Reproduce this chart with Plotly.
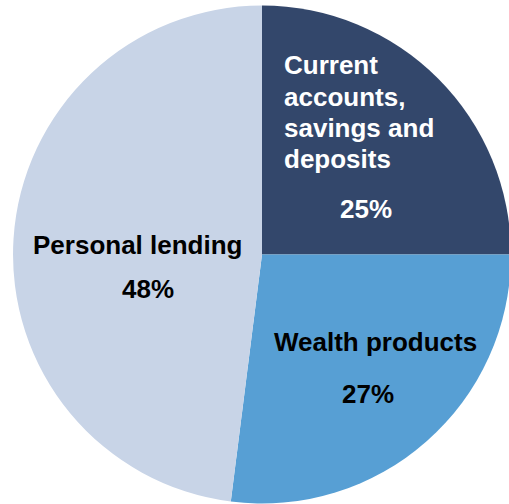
import plotly.graph_objects as go

# Share of revenue by product line
segments = ["Current accounts, savings and deposits", "Wealth products", "Personal lending"]
shares = [25, 27, 48]
slice_colors = ["#33476B", "#579FD4", "#C8D4E7"]

W, H = 524, 504
FONT = "Liberation Sans, Arial, sans-serif"


def px(x):
    return x / W


def py(y):
    return 1 - y / H


fig = go.Figure(
    go.Pie(
        labels=segments,
        values=shares,
        sort=False,
        direction="clockwise",
        rotation=0,
        textinfo="none",
        hoverinfo="label+percent",
        marker=dict(colors=slice_colors, line=dict(width=0)),
        domain=dict(x=[0, 1], y=[0.001, 0.989]),
        showlegend=False,
    )
)

annotations = []


def label(text, x, y, color, xanchor="center"):
    annotations.append(
        dict(
            text=text,
            x=px(x),
            y=py(y),
            xref="paper",
            yref="paper",
            xanchor=xanchor,
            yanchor="middle",
            showarrow=False,
            font=dict(family=FONT, size=26, color=color, weight="bold"),
        )
    )


# First slice: wrapped name, left aligned, white
name_lines = ["Current", "accounts,", "savings and", "deposits"]
for i, line in enumerate(name_lines):
    label(line, 282, 65.5 + 31 * i, "white", xanchor="left")
label(f"{shares[0]}%", 366, 209, "white")

# Second slice
label(segments[1], 375, 341.5, "black")
label(f"{shares[1]}%", 367.5, 394, "black")

# Third slice
label(segments[2], 137.5, 245, "black")
label(f"{shares[2]}%", 148, 289, "black")

fig.update_layout(
    width=W,
    height=H,
    autosize=False,
    margin=dict(l=0, r=0, t=0, b=0),
    paper_bgcolor="white",
    plot_bgcolor="white",
    annotations=annotations,
)

fig.write_html(
    "out.html",
    post_script="document.documentElement.style.overflow='hidden';document.body.style.overflow='hidden';document.body.style.margin='0';",
)
